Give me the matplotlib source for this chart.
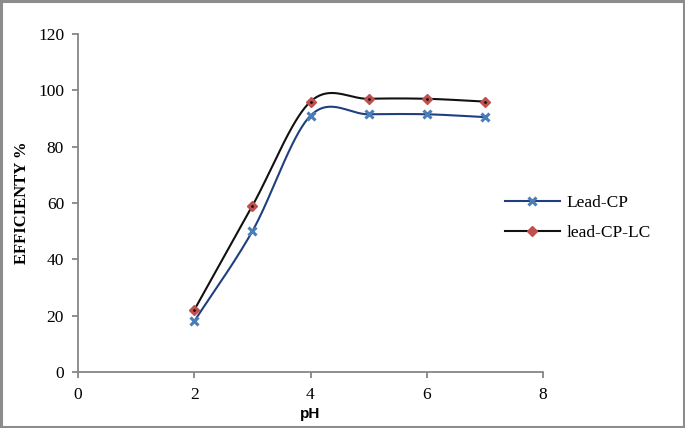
import numpy as np
import matplotlib
matplotlib.use("Agg")
import matplotlib.pyplot as plt
from matplotlib.patches import Rectangle

ph = [2, 3, 4, 5, 6, 7]
lead_cp = [18, 50, 91, 91.5, 91.5, 90.5]
lead_cp_lc = [22, 59, 96, 97, 97, 96]
series_names = ["Lead-CP", "lead-CP-LC"]


def smooth(x, y, n=40):
    # Catmull-Rom style smoothing (like Excel "smoothed line")
    x = np.asarray(x, float)
    y = np.asarray(y, float)
    px = np.concatenate([[2 * x[0] - x[1]], x, [2 * x[-1] - x[-2]]])
    py = np.concatenate([[2 * y[0] - y[1]], y, [2 * y[-1] - y[-2]]])
    xs, ys = [], []
    t = np.linspace(0, 1, n)
    for i in range(1, len(px) - 2):
        p0, p1, p2, p3 = [np.array([px[j], py[j]]) for j in (i - 1, i, i + 1, i + 2)]
        for tt in t:
            pt = 0.5 * ((2 * p1) + (-p0 + p2) * tt + (2 * p0 - 5 * p1 + 4 * p2 - p3) * tt ** 2
                        + (-p0 + 3 * p1 - 3 * p2 + p3) * tt ** 3)
            xs.append(pt[0])
            ys.append(pt[1])
    return np.array(xs), np.array(ys)


plt.rcParams['font.family'] = ['Liberation Serif', 'DejaVu Serif']

fig = plt.figure(figsize=(6.85, 4.28), dpi=100)
ax = fig.add_axes([78 / 685, 1 - 372 / 428, (543 - 78) / 685, (372 - 34) / 428])

gray = "#868686"
sx, sy = smooth(ph, lead_cp)
ax.plot(sx, sy, color="#1f3f7f", lw=1.5, zorder=2)
ax.plot(ph, lead_cp, ls="none", marker="x", ms=5.5, mew=2.2, color="#4a7ebb", zorder=3)
sx2, sy2 = smooth(ph, lead_cp_lc)
ax.plot(sx2, sy2, color="#111111", lw=1.5, zorder=2)
ax.plot(ph, lead_cp_lc, ls="none", marker="D", ms=5, mfc="#c0504d", mec="#c0504d", zorder=3)
ax.plot(ph, lead_cp_lc, ls="none", marker=".", ms=2, color="#111111", zorder=4)

# legend handles
h1, = ax.plot([], [], color="#1f3f7f", lw=1.5, marker="x", ms=5.5, mew=2.2, mec="#4a7ebb")
h2, = ax.plot([], [], color="#111111", lw=1.5, marker="D", ms=5, mfc="#c0504d", mec="#c0504d")
leg = fig.legend([h1, h2], series_names, loc="center left", bbox_to_anchor=(489 / 685, 1 - 218 / 428),
                 frameon=False, fontsize=12.5, handlelength=3.2, labelspacing=0.8, handletextpad=0.35)

ax.set_xlim(0, 8)
ax.set_ylim(0, 120)
ax.set_xticks([0, 2, 4, 6, 8])
ax.set_yticks(range(0, 121, 20))
for s in ["top", "right"]:
    ax.spines[s].set_visible(False)
for s in ["left", "bottom"]:
    ax.spines[s].set_color(gray)
    ax.spines[s].set_linewidth(1.3)
ax.tick_params(direction="out", length=4, width=1.3, color=gray, labelsize=12.5)
ax.tick_params(axis="x", pad=7)
ax.tick_params(axis="y", pad=6)
ax.set_xlabel("pH", fontsize=11, fontweight="bold", family=["Liberation Sans", "DejaVu Sans"], labelpad=3)
ax.set_ylabel("EFFICIENTY %", fontsize=12, fontweight="bold", labelpad=6)

fig.patches.append(Rectangle((0.002, 0.003), 0.996, 0.994, transform=fig.transFigure,
                             fill=False, edgecolor="#8c8c8c", lw=2.2))

fig.savefig("out.png", dpi=100)
